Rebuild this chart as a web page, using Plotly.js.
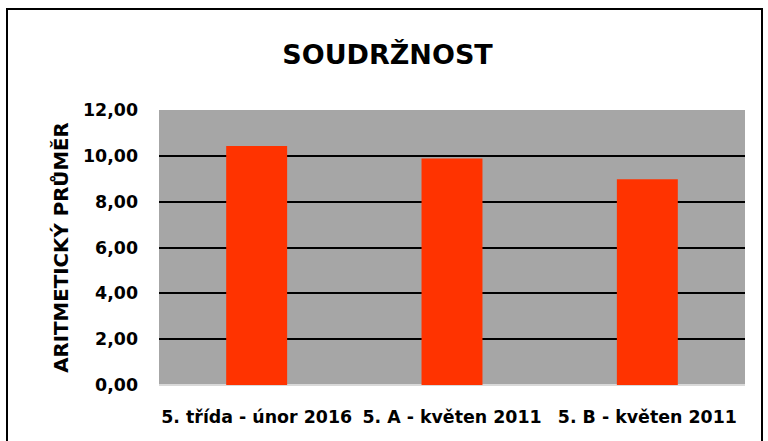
<!DOCTYPE html>
<html>
<head>
<meta charset="utf-8">
<script src="https://cdn.plot.ly/plotly-3.0.1.min.js"></script>
<style>
html,body{margin:0;padding:0;background:#fff;}
#chart{width:768px;height:441px;}
</style>
</head>
<body>
<div id="chart"></div>
<script>
const categories = ["5. třída - únor 2016", "5. A - květen 2011", "5. B - květen 2011"];
const values = [10.43, 9.88, 8.98];
const yTickValues = [0, 2, 4, 6, 8, 10, 12];
const yTickLabels = ["0,00", "2,00", "4,00", "6,00", "8,00", "10,00", "12,00"];
const chartTitle = "SOUDRŽNOST";
const yTitle = "ARITMETICKÝ PRŮMĚR";

const FONT = "DejaVu Sans, sans-serif";

const trace = {
  type: "bar",
  x: categories,
  y: values,
  marker: {color: "#FF3300", line: {width: 0}},
  hoverinfo: "none"
};

const layout = {
  width: 768,
  height: 441,
  margin: {l: 159, r: 23, t: 110, b: 56},
  paper_bgcolor: "#ffffff",
  plot_bgcolor: "#A6A6A6",
  bargap: 0.688,
  showlegend: false,
  font: {family: FONT, color: "#000000"},
  title: {
    text: "<b>" + chartTitle + "</b>",
    font: {family: FONT, size: 27, color: "#000000"},
    x: 387.5/768, xanchor: "center",
    xref: "container",
    y: 1 - 55/441, yanchor: "middle", yref: "container"
  },
  xaxis: {
    type: "category",
    tickfont: {family: FONT, size: 17.4, color: "#000000"},
    tickprefix: "<b>", ticksuffix: "</b>",
    showgrid: false,
    showline: false,
    ticks: "",
    ticklabelstandoff: 20,
    fixedrange: true
  },
  yaxis: {
    range: [0, 12],
    tickvals: yTickValues,
    ticktext: yTickLabels.map(s => "<b>" + s + "</b>"),
    tickfont: {family: FONT, size: 17.4, color: "#000000"},
    showgrid: true,
    gridcolor: "#000000",
    gridwidth: 2,
    zeroline: true,
    zerolinecolor: "#D9D9D9",
    zerolinewidth: 2,
    showline: false,
    ticks: "",
    ticklabelstandoff: 20,
    automargin: false,
    title: {
      text: "<b>" + yTitle + "</b>",
      font: {family: FONT, size: 19.8, color: "#000000"},
      standoff: 9
    },
    fixedrange: true
  },
  shapes: [
    {type: "rect", xref: "paper", yref: "paper",
     x0: (7-159)/586, x1: (762-159)/586,
     y0: (385-450)/275, y1: (385-9)/275,
     line: {color: "#000000", width: 2}, fillcolor: "rgba(0,0,0,0)", layer: "below"}
  ]
};

Plotly.newPlot("chart", [trace], layout, {displayModeBar: false, staticPlot: true});
</script>
</body>
</html>
